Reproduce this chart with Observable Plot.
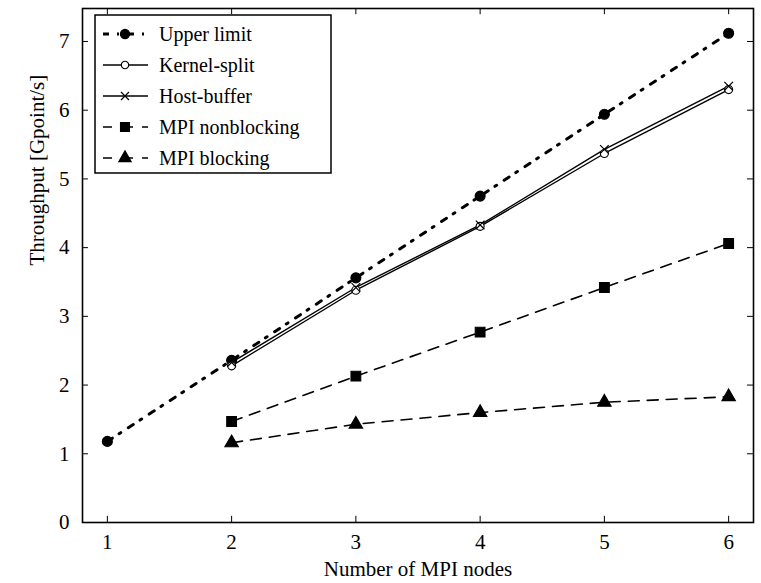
<!DOCTYPE html>
<html><head><meta charset="utf-8">
<script src="https://cdn.jsdelivr.net/npm/d3@7"></script>
<script src="https://cdn.jsdelivr.net/npm/@observablehq/plot@0.6"></script>
<style>body{margin:0;background:#fff;} svg{font-family:"Liberation Serif",serif;}</style>
</head><body><div id="chart"></div>
<script>
const nodes = [1, 2, 3, 4, 5, 6];
const seriesNames = ["Upper limit", "Kernel-split", "Host-buffer", "MPI nonblocking", "MPI blocking"];
const upperLimit = [1.18, 2.36, 3.56, 4.75, 5.94, 7.12];
const kernelSplit = [null, 2.28, 3.38, 4.31, 5.37, 6.30];
const hostBuffer = [null, 2.33, 3.42, 4.33, 5.43, 6.35];
const mpiNonblocking = [null, 1.47, 2.13, 2.77, 3.42, 4.06];
const mpiBlocking = [null, 1.16, 1.43, 1.60, 1.75, 1.83];
const xTicks = [1, 2, 3, 4, 5, 6];
const yTicks = [0, 1, 2, 3, 4, 5, 6, 7];

const styles = {
  "Upper limit": {dash: "6,8,2,9", sw: 3, symbol: "circle", fill: "#000", r: 5},
  "Kernel-split": {dash: null, sw: 1.4, symbol: "circle", fill: "#fff", r: 4},
  "Host-buffer": {dash: null, sw: 1.4, symbol: "times", fill: "none", r: 4},
  "MPI nonblocking": {dash: "11,8", sw: 1.6, symbol: "square", fill: "#000", r: 5.5},
  "MPI blocking": {dash: "11,8", sw: 1.6, symbol: "triangle", fill: "#000", r: 5}
};
const valueArrays = [upperLimit, kernelSplit, hostBuffer, mpiNonblocking, mpiBlocking];
const data = [];
seriesNames.forEach((s, i) => nodes.forEach((n, j) => {
  if (valueArrays[i][j] != null) data.push({series: s, x: n, y: valueArrays[i][j]});
}));

const marks = [];
seriesNames.forEach(s => {
  const st = styles[s];
  const d = data.filter(e => e.series === s);
  marks.push(Plot.line(d, {x: "x", y: "y", stroke: "#000", strokeWidth: st.sw, strokeDasharray: st.dash ?? undefined}));
});
seriesNames.forEach(s => {
  const st = styles[s];
  const d = data.filter(e => e.series === s);
  if (st.symbol === "times") {
    marks.push(Plot.dot(d, {x: "x", y: "y", symbol: "times", r: st.r, stroke: "#000", strokeWidth: 1.2}));
  } else {
    marks.push(Plot.dot(d, {x: "x", y: "y", symbol: st.symbol, r: st.r, fill: st.fill, stroke: "#000", strokeWidth: 1.1}));
  }
});

// legend as custom render mark
function legendMark() {
  return (index, scales, values, dims) => {
    const g = d3.create("svg:g").attr("text-anchor", "start");
    const x0 = 95, y0 = 15, w = 236, h = 158;
    g.append("rect").attr("x", x0).attr("y", y0).attr("width", w).attr("height", h)
      .attr("fill", "#fff").attr("stroke", "#000").attr("stroke-width", 1.5);
    const sym = {circle: d3.symbolCircle, square: d3.symbolSquare, triangle: d3.symbolTriangle, times: d3.symbolTimes};
    seriesNames.forEach((s, i) => {
      const st = styles[s];
      const cy = y0 + 19 + i * 31;
      g.append("line").attr("x1", 103).attr("x2", 148).attr("y1", cy).attr("y2", cy)
        .attr("stroke", "#000").attr("stroke-width", st.sw)
        .attr("stroke-dasharray", st.dash ? (s === "Upper limit" ? "6,8,2,9" : "12,9") : null)
        .attr("stroke-dashoffset", s === "Upper limit" ? 0 : 3);
      const size = Math.PI * st.r * st.r * 0.85;
      const p = g.append("path").attr("transform", `translate(125,${cy})`)
        .attr("d", d3.symbol(sym[st.symbol], size)());
      if (st.symbol === "times") p.attr("fill", "none").attr("stroke", "#000").attr("stroke-width", 1.2);
      else p.attr("fill", st.fill).attr("stroke", "#000").attr("stroke-width", 1.1);
      g.append("text").attr("x", 159).attr("y", cy).attr("dy", "0.35em")
        .attr("font-size", 20).attr("fill", "#000").text(s);
    });
    return g.node();
  };
}

const chart = Plot.plot({
  width: 761, height: 583,
  marginLeft: 82, marginRight: 8, marginTop: 8, marginBottom: 61,
  style: {fontFamily: "Liberation Serif, serif", fontSize: "21px", color: "#000", background: "#fff"},
  x: {domain: [0.8, 6.2]},
  y: {domain: [0, 7.48]},
  marks: [
    Plot.axisX(xTicks, {tickSize: 0, tickPadding: 12, fontSize: 21, label: null, tickFormat: d => String(d)}),
    Plot.axisY(yTicks, {tickSize: 0, tickPadding: 13, fontSize: 21, label: null, tickFormat: d => String(d)}),
    Plot.ruleX(xTicks, {x: d => d, y1: 0, y2: 0.09, stroke: "#000", strokeWidth: 1}),
    Plot.ruleX(xTicks, {x: d => d, y1: 7.48, y2: 7.39, stroke: "#000", strokeWidth: 1}),
    Plot.ruleY(yTicks, {y: d => d, x1: 0.8, x2: 0.848, stroke: "#000", strokeWidth: 1}),
    Plot.ruleY(yTicks, {y: d => d, x1: 6.2, x2: 6.152, stroke: "#000", strokeWidth: 1}),
    ...marks,
    Plot.frame({stroke: "#000", strokeWidth: 1.6}),
    legendMark(),
    Plot.text(["Number of MPI nodes"], {frameAnchor: "bottom", dy: 53, fontSize: 21, text: d => d}),
    Plot.text(["Throughput [Gpoint/s]"], {frameAnchor: "left", dx: -45, rotate: -90, fontSize: 21, text: d => d})
  ]
});
document.getElementById("chart").append(chart);
</script></body></html>
